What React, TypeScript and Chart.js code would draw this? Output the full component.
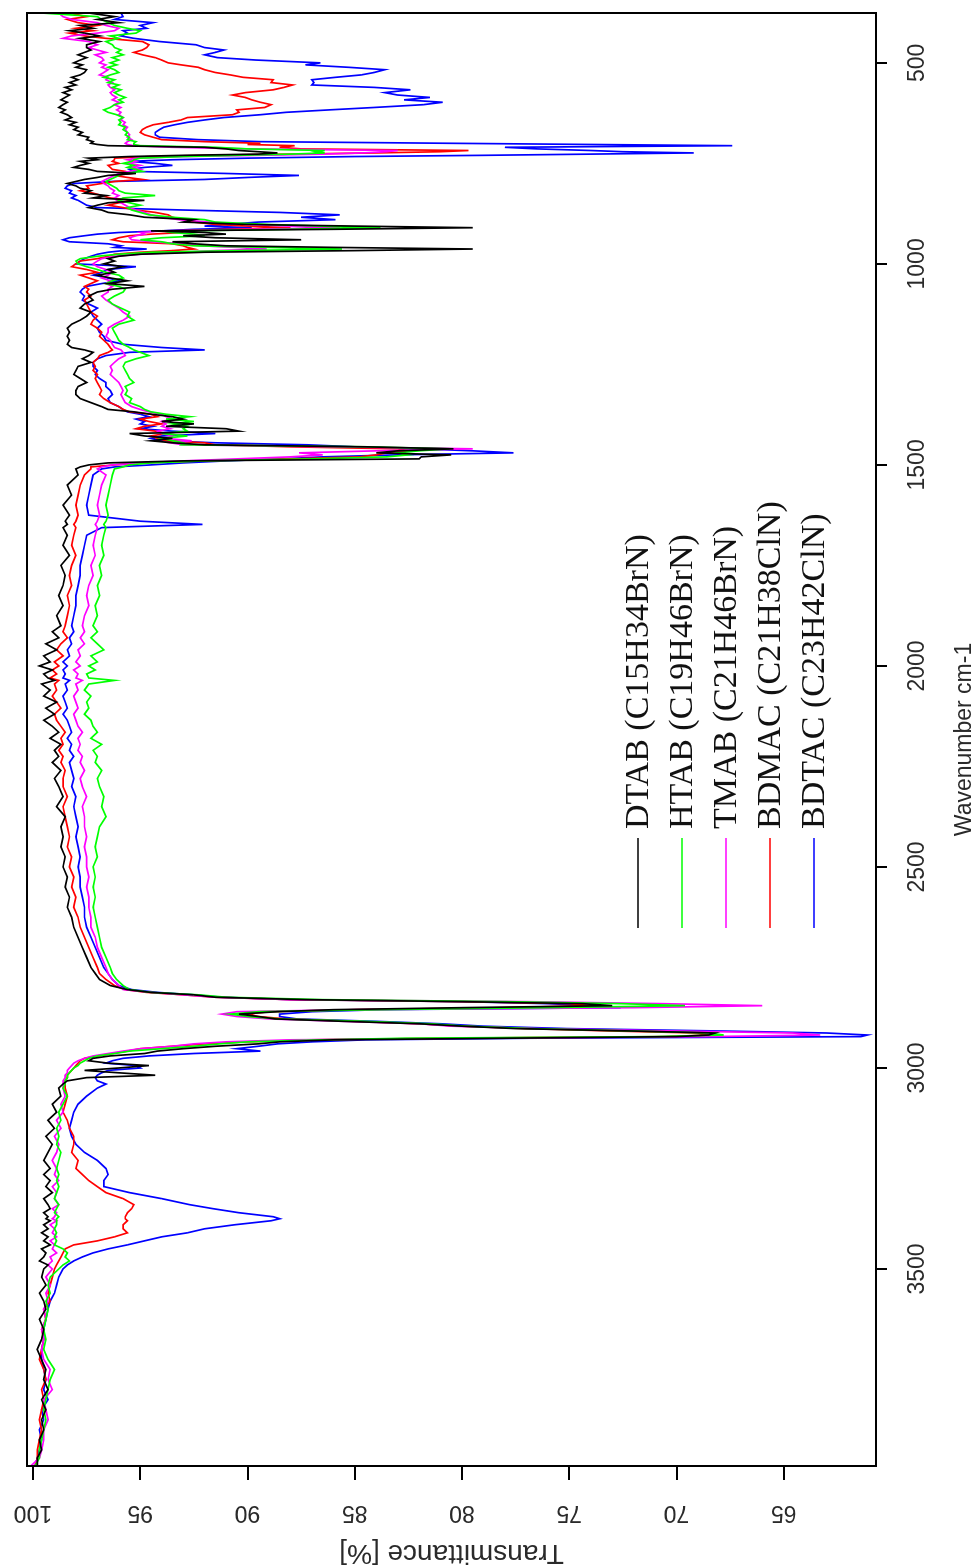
import React, { useEffect, useRef } from "react";
import { Chart, registerables } from "chart.js";

Chart.register(...registerables);

// FTIR spectra of five quaternary ammonium surfactants.
// Shared wavenumber grid (cm-1), ascending.
const wavenumbers = [
  376, 385, 392, 400, 407, 414, 420, 426, 433, 439, 447, 455,
  462, 468, 474, 480, 487, 493, 500, 505, 511, 517, 524, 530, 536, 542, 549, 555, 561, 567, 574, 580, 586, 592, 598, 604,
  611, 617, 623, 629, 636, 642, 648, 654, 660, 666, 673, 679, 685, 691, 696, 700,
  703, 706, 710, 714, 718, 721, 724, 727, 730, 733, 737, 741, 745, 750, 755, 760,
  765, 770, 775, 780, 785, 790, 795, 800, 806, 812, 818, 824, 830, 836, 842, 848, 854, 860, 866, 872, 878, 884, 890, 896,
  902, 906, 910, 914, 918, 922, 926, 930, 935, 940, 945, 950, 955, 959, 963, 967, 971, 976, 981, 987, 993, 1000, 1007,
  1014, 1021, 1028, 1035, 1042, 1049, 1056, 1063,
  1070, 1080, 1090, 1100, 1110, 1120, 1130, 1140, 1150, 1160, 1170, 1180, 1190, 1200, 1208, 1214, 1220, 1228, 1236, 1245,
  1255, 1265, 1275, 1285, 1295, 1305, 1315, 1325, 1335, 1345, 1355, 1362, 1368, 1374, 1380, 1386, 1392, 1398, 1404, 1410,
  1416, 1422, 1428, 1434, 1440, 1445,
  1450, 1455, 1460, 1465, 1470, 1475, 1480, 1485, 1490, 1495, 1500, 1505, 1510,
  1525, 1550, 1575, 1600, 1625, 1640, 1648, 1656, 1675, 1700, 1725, 1750, 1775, 1800, 1825, 1850, 1875, 1900, 1915, 1930,
  1945, 1960, 1975, 1990, 2000, 2010, 2020, 2030, 2036, 2045, 2060, 2075, 2090, 2105, 2120, 2135, 2150, 2165, 2180, 2195,
  2210, 2225, 2240, 2260, 2280, 2300, 2325, 2350, 2375, 2400, 2425, 2450, 2475, 2500, 2525, 2550, 2575, 2600, 2625, 2650,
  2675, 2700, 2725, 2750,
  2765, 2780, 2795, 2805, 2812, 2818, 2824, 2830, 2835, 2840, 2845, 2850, 2855, 2860, 2866, 2872, 2878, 2884, 2890, 2896,
  2902, 2908, 2913, 2918, 2922, 2926, 2930, 2935, 2940, 2946, 2952, 2958, 2964, 2970, 2976, 2982, 2988, 2994, 3000, 3006,
  3012, 3018, 3024, 3032, 3040, 3050,
  3070, 3090, 3110, 3130, 3150, 3170, 3190, 3210, 3230, 3250, 3265, 3280, 3295, 3310, 3325, 3340, 3350, 3360, 3370, 3375,
  3380, 3390, 3400, 3410, 3420, 3430, 3440, 3450, 3460, 3470, 3480, 3490, 3500, 3520, 3540, 3560, 3580, 3600, 3625, 3650,
  3675, 3700,
  3725, 3750, 3775, 3800, 3825, 3850, 3875, 3900, 3925, 3950, 3970, 3990,
];

// Transmittance (%) of each surfactant at the wavenumbers above.
const dtab = [
  97.4, 96.2, 97.0, 96.0, 97.8, 97.2, 98.3, 97.6, 96.9, 97.8, 96.9, 97.5,
  97.5, 97.3, 97.6, 97.9, 97.5, 97.8, 98.1, 97.7, 98.0, 97.5, 97.6, 97.8, 98.2, 97.9, 98.3, 98.0, 98.5, 98.2, 98.6, 98.3, 98.5, 98.7, 98.4, 98.6,
  98.8, 98.5, 98.7, 98.4, 98.2, 98.5, 98.0, 98.3, 97.9, 98.1, 97.7, 97.9, 97.4, 97.5, 97.2, 97.3,
  97.0, 96.5, 92.0, 91.0, 90.4, 89.5, 88.6, 89.5, 93.0, 95.5, 97.4, 97.0, 97.8, 97.4, 97.8, 98.1,
  97.4, 97.0, 95.2, 96.5, 97.0, 97.6, 98.0, 98.4, 98.0, 97.8, 97.3, 97.6, 96.6, 97.2, 94.8, 96.5, 97.0, 97.4, 96.8, 96.5, 95.5, 94.8, 92.5, 93.0,
  90.0, 85.0, 79.5, 86.0, 94.5, 92.0, 91.0, 93.0, 91.5, 87.5, 93.5, 92.5, 91.0, 86.0, 79.5, 85.0, 92.0, 95.0, 96.0, 96.5, 96.2, 96.7, 95.8,
  96.5, 96.2, 97.0, 96.4, 95.6, 96.5, 94.8, 96.3,
  97.0, 97.4, 97.2, 97.6, 97.8, 97.3, 97.5, 97.8, 98.2, 98.4, 98.3, 98.4, 98.3, 98.4, 98.2, 97.6, 97.2, 97.4, 97.7, 97.3,
  97.9, 98.0, 98.1, 97.8, 97.5, 97.9, 98.0, 98.0, 97.8, 97.3, 96.8, 96.5, 95.3, 94.5, 93.5, 93.0, 94.0, 92.5, 93.8, 91.0,
  90.4, 95.5, 94.8, 93.5, 94.5, 93.5,
  92.0, 84.5, 80.4, 83.0, 84.0, 80.5, 81.9, 82.0, 93.0, 96.5, 97.4, 97.8, 98.0,
  97.9, 98.4, 98.2, 98.6, 98.3, 98.5, 98.4, 98.6, 98.4, 98.6, 98.3, 98.7, 98.5, 98.6, 98.8, 98.6, 98.9, 98.7, 99.1, 98.8,
  99.4, 98.9, 99.5, 99.2, 99.7, 99.1, 99.5, 99.3, 99.0, 99.6, 99.2, 99.5, 98.9, 99.4, 99.0, 99.5, 99.1, 98.8, 99.2, 98.7,
  99.0, 98.8, 99.1, 98.7, 99.0, 98.8, 98.6, 98.9, 98.5, 98.7, 98.6, 98.7, 98.5, 98.6, 98.4, 98.5, 98.3, 98.4, 98.2, 98.1,
  97.9, 97.7, 97.5, 97.3,
  97.1, 96.9, 96.4, 95.6, 94.5, 92.5, 91.5, 87.3, 80.0, 74.4, 73.0, 80.0, 86.0, 88.6, 90.4, 89.5, 88.7, 85.5, 82.0, 80.0,
  77.5, 72.1, 68.2, 68.5, 70.0, 78.0, 86.0, 88.5, 89.5, 91.5, 93.0, 94.2, 94.8, 96.4, 97.2, 97.4, 96.5, 94.6, 96.0, 97.6,
  96.0, 94.3, 97.5, 98.4, 98.6, 98.8,
  98.7, 99.1, 98.9, 99.3, 99.0, 99.4, 99.1, 99.3, 99.5, 99.2, 99.5, 99.2, 99.4, 99.1, 99.5, 99.3, 99.2, 99.5, 99.3, 99.4,
  99.2, 99.5, 99.3, 99.6, 99.3, 99.5, 99.2, 99.6, 99.4, 99.5, 99.7, 99.3, 99.5, 99.6, 99.4, 99.7, 99.5, 99.4, 99.7, 99.5,
  99.6, 99.8,
  99.6, 99.4, 99.5, 99.3, 99.6, 99.4, 99.6, 99.5, 99.7, 99.6, 99.8, 99.8,
];

const htab = [
  99.6, 97.0, 96.8, 96.5, 96.2, 95.6, 95.0, 95.2, 96.4, 96.0, 96.6, 96.3,
  96.2, 95.9, 96.1, 95.8, 96.3, 96.0, 96.4, 96.1, 96.5, 96.2, 96.0, 96.4, 96.7, 96.2, 96.5, 96.0, 96.3, 95.9, 96.2, 96.0, 95.7, 96.0, 95.8, 96.2,
  96.4, 96.7, 96.5, 96.1, 95.8, 96.0, 95.9, 96.0, 95.7, 95.8, 95.6, 95.7, 95.5, 95.6, 95.2, 95.3,
  95.3, 95.0, 91.5, 90.0, 86.4, 86.8, 86.4, 88.0, 90.5, 93.0, 95.0, 95.3, 95.4, 95.8, 95.3, 95.6,
  95.2, 94.9, 95.8, 96.0, 96.2, 96.4, 96.6, 96.5, 96.3, 96.1, 96.0, 95.7, 94.3, 95.8, 96.0, 95.5, 95.0, 95.6, 95.4, 95.0, 94.6, 93.5, 92.0, 91.5,
  89.0, 86.5, 83.8, 88.0, 93.0, 93.5, 92.5, 92.0, 94.0, 95.0, 94.0, 93.5, 92.5, 89.0, 85.6, 90.5, 94.5, 96.0, 97.0, 97.8, 98.0, 97.9, 97.5,
  97.0, 96.6, 96.0, 95.8, 96.3, 96.6, 96.0, 95.7,
  95.8, 96.2, 96.5, 96.3, 95.9, 95.5, 95.6, 95.3, 96.0, 96.3, 96.2, 96.1, 96.0, 95.8, 95.5, 95.3, 95.0, 94.6, 95.2, 95.7,
  95.8, 95.7, 95.6, 95.5, 95.3, 95.7, 95.6, 95.7, 95.4, 95.5, 95.0, 94.8, 94.5, 93.8, 92.7, 93.8, 92.5, 93.5, 92.8, 93.0,
  92.8, 94.0, 92.8, 94.0, 93.5, 93.0,
  93.1, 84.5, 80.6, 82.0, 83.0, 82.5, 83.5, 87.0, 92.0, 94.5, 95.5, 95.8, 96.2,
  96.3, 96.4, 96.5, 96.6, 96.5, 96.6, 96.7, 96.6, 96.7, 96.8, 96.7, 96.9, 96.8, 97.0, 96.9, 97.1, 97.0, 97.2, 97.0, 97.3,
  97.0, 96.7, 97.3, 97.0, 97.4, 97.1, 97.5, 97.4, 96.2, 97.4, 97.6, 97.3, 97.5, 97.4, 97.6, 97.3, 97.2, 97.0, 97.3, 96.8,
  97.2, 97.0, 97.1, 96.8, 97.0, 96.9, 96.7, 96.8, 96.6, 96.9, 97.0, 97.1, 97.0, 97.2, 97.1, 97.2, 97.1, 97.2, 97.1, 97.0,
  96.9, 96.8, 96.6, 96.4,
  96.3, 96.1, 95.8, 95.5, 94.5, 92.3, 91.0, 86.5, 78.0, 72.6, 69.6, 76.0, 84.0, 89.5, 90.8, 90.0, 88.5, 84.5, 81.5, 79.8,
  76.8, 72.0, 68.5, 67.8, 71.0, 82.7, 86.5, 90.0, 91.3, 92.5, 94.0, 95.5, 96.2, 97.0, 97.4, 97.6, 97.8, 97.9, 98.1, 98.2,
  98.3, 98.4, 98.4, 98.5, 98.5, 98.6,
  98.4, 98.6, 98.8, 98.7, 98.9, 98.8, 98.9, 98.7, 98.8, 98.9, 98.8, 98.9, 98.8, 98.9, 99.0, 98.8, 98.9, 99.0, 98.8, 98.9,
  98.9, 98.9, 99.0, 98.9, 99.0, 98.9, 99.0, 98.6, 98.4, 98.5, 98.3, 98.6, 98.8, 99.2, 99.3, 99.2, 99.4, 99.3, 99.4, 99.5,
  99.4, 99.5,
  99.3, 99.0, 99.2, 99.3, 99.4, 99.5, 99.4, 99.5, 99.6, 99.7, 99.7, 99.9,
];

const tmab = [
  98.8, 98.6, 98.2, 97.0, 96.6, 96.0, 96.2, 97.0, 98.2, 98.6, 97.4, 97.0,
  97.4, 97.0, 96.6, 97.1, 96.8, 96.7, 96.9, 96.6, 96.8, 96.5, 96.7, 96.9, 96.5, 96.6, 96.3, 96.5, 96.4, 96.2, 96.4, 96.3, 96.1, 96.3, 96.0, 96.2,
  95.9, 96.1, 95.9, 96.0, 95.8, 95.9, 95.7, 95.8, 95.6, 95.7, 95.6, 95.5, 95.6, 95.4, 95.6, 95.7,
  95.6, 95.3, 93.5, 90.0, 83.0, 83.5, 84.6, 86.5, 89.5, 93.0, 95.2, 95.6, 95.2, 95.5, 95.0, 95.4,
  95.0, 95.5, 96.0, 96.2, 96.4, 96.6, 96.8, 96.7, 96.5, 96.4, 96.2, 96.3, 96.0, 96.2, 96.1, 95.9, 95.7, 95.5, 95.2, 94.8, 94.5, 94.0, 93.2, 91.8,
  90.0, 88.0, 85.7, 90.0, 94.0, 95.0, 94.8, 95.2, 95.5, 95.4, 94.5, 93.0, 92.2, 90.5, 89.1, 91.5, 93.0, 95.0, 96.2, 96.8, 97.0, 97.2, 97.0,
  96.6, 96.3, 96.5, 96.8, 96.4, 96.6, 96.3, 96.5,
  96.5, 96.8, 96.6, 96.3, 96.0, 95.8, 95.5, 95.8, 96.2, 96.5, 96.5, 96.6, 96.4, 96.3, 96.2, 95.9, 95.8, 95.7, 96.0, 96.2,
  96.4, 96.3, 96.4, 96.2, 96.0, 95.9, 95.8, 95.9, 95.8, 95.7, 95.4, 95.0, 94.6, 94.0, 93.8, 93.5, 94.0, 93.8, 94.0, 93.6,
  94.2, 94.0, 93.5, 93.8, 92.6, 93.6,
  93.0, 86.0, 79.5, 84.0, 87.6, 86.5, 88.0, 90.5, 93.0, 95.0, 96.3, 96.8, 97.0,
  96.6, 96.8, 96.9, 97.0, 96.9, 97.0, 97.1, 97.0, 97.1, 97.2, 97.1, 97.3, 97.2, 97.4, 97.5, 97.4, 97.6, 97.7, 97.6, 97.8,
  97.6, 97.9, 97.8, 98.0, 97.8, 98.1, 97.9, 98.0, 97.7, 98.0, 97.9, 98.1, 98.0, 97.9, 98.1, 98.0, 97.9, 97.7, 97.9, 97.8,
  97.9, 97.7, 97.8, 97.6, 97.8, 97.7, 97.5, 97.7, 97.6, 97.6, 97.5, 97.6, 97.5, 97.5, 97.4, 97.5, 97.4, 97.4, 97.3, 97.3,
  97.1, 97.0, 96.8, 96.6,
  96.5, 96.3, 96.0, 95.8, 94.5, 93.0, 91.5, 88.0, 77.0, 70.7, 66.0, 72.0, 85.0, 90.5, 91.2, 90.5, 89.0, 85.5, 82.0, 80.5,
  76.5, 70.0, 64.6, 63.3, 68.5, 80.0, 88.0, 91.0, 92.5, 93.5, 95.0, 95.8, 96.5, 97.2, 97.6, 97.9, 98.1, 98.2, 98.3, 98.4,
  98.4, 98.5, 98.5, 98.6, 98.6, 98.6,
  98.5, 98.7, 98.6, 98.9, 98.7, 99.0, 98.8, 98.9, 99.1, 98.9, 99.0, 98.8, 99.1, 98.9, 99.0, 98.8, 99.1, 98.9, 99.0, 99.1,
  98.9, 99.2, 99.0, 99.1, 98.9, 99.2, 99.0, 99.1, 98.9, 99.2, 99.1, 99.3, 99.1, 99.4, 99.2, 99.4, 99.3, 99.5, 99.4, 99.6,
  99.5, 99.6,
  99.5, 99.2, 99.3, 99.1, 99.5, 99.4, 99.3, 99.5, 99.5, 99.6, 99.7, 100.1,
];

const bdmac = [
  98.3, 97.5, 98.4, 97.9, 97.0, 98.0, 97.2, 98.3, 97.6, 96.6, 94.9, 94.6,
  94.7, 94.9, 95.3, 94.9, 94.3, 94.0, 93.7, 93.1, 92.3, 92.0, 91.5, 90.8, 90.2, 88.8, 88.9, 87.9, 88.3, 88.8, 90.1, 90.7, 90.1, 89.8, 89.4, 88.9,
  89.2, 90.5, 90.4, 90.7, 92.8, 93.1, 93.7, 94.4, 94.7, 94.9, 95.0, 94.8, 94.4, 94.0, 92.0, 89.4,
  90.0, 87.8, 88.5, 87.5, 79.7, 81.0, 84.0, 88.0, 92.0, 94.5, 96.2, 96.2, 96.3, 96.0, 96.5, 96.4,
  96.3, 95.7, 95.4, 96.2, 95.6, 94.9, 96.2, 96.8, 97.5, 97.4, 97.8, 97.2, 96.8, 96.4, 95.3, 96.0, 96.5, 95.8, 95.2, 94.3, 93.7, 93.5, 93.0, 92.5,
  91.5, 90.0, 88.0, 91.0, 93.5, 93.0, 94.5, 95.5, 96.0, 96.3, 95.8, 93.5, 93.0, 92.8, 92.5, 93.5, 95.0, 96.2, 96.5, 97.0, 97.8, 98.0, 98.2,
  97.5, 97.0, 97.8, 97.4, 97.0, 97.3, 97.6, 97.4,
  97.5, 97.3, 97.6, 97.5, 97.4, 97.3, 97.0, 97.2, 97.3, 97.0, 96.8, 96.9, 96.7, 96.5, 96.4, 96.3, 96.5, 96.9, 97.0, 97.2,
  97.1, 97.2, 97.0, 97.1, 97.0, 96.9, 96.8, 96.9, 96.7, 96.4, 96.0, 95.8, 95.5, 94.5, 94.2, 95.0, 94.6, 94.0, 94.8, 95.2,
  94.3, 93.8, 94.5, 94.2, 93.8, 92.0,
  91.5, 88.0, 83.0, 82.5, 83.5, 84.0, 84.8, 88.0, 92.0, 95.0, 96.2, 97.3, 97.3,
  97.6, 97.8, 97.9, 98.0, 97.9, 98.0, 98.1, 98.0, 98.1, 98.2, 98.0, 98.2, 98.3, 98.2, 98.4, 98.3, 98.4, 98.5, 98.6, 98.4,
  98.7, 98.9, 98.6, 99.0, 98.8, 99.1, 98.9, 99.2, 98.8, 99.0, 98.9, 99.1, 98.9, 98.7, 99.0, 98.9, 98.7, 98.5, 98.7, 98.6,
  98.8, 98.6, 98.7, 98.5, 98.6, 98.6, 98.4, 98.6, 98.5, 98.4, 98.3, 98.4, 98.2, 98.3, 98.1, 98.2, 98.0, 98.1, 97.9, 97.8,
  97.6, 97.4, 97.2, 97.0,
  96.9, 96.6, 96.2, 95.7, 94.7, 93.0, 91.5, 88.0, 80.0, 75.0, 74.0, 78.0, 85.0, 89.0, 90.0, 89.5, 88.2, 85.0, 82.0, 80.0,
  77.0, 73.0, 69.0, 68.5, 70.5, 81.0, 87.0, 90.0, 92.0, 93.5, 95.0, 95.6, 96.3, 97.0, 97.6, 97.8, 97.9, 98.0, 98.1, 98.2,
  98.3, 98.4, 98.4, 98.5, 98.5, 98.5,
  98.4, 98.5, 98.6, 98.4, 98.3, 98.1, 98.1, 98.2, 97.9, 98.0, 97.7, 97.4, 97.0, 96.6, 95.8, 95.3, 95.4, 95.6, 95.7, 95.7,
  95.6, 95.8, 95.8, 95.6, 96.2, 97.0, 98.1, 98.5, 98.6, 98.7, 98.8, 98.9, 99.0, 99.1, 99.2, 99.3, 99.2, 99.5, 99.4, 99.6,
  99.5, 99.6,
  99.7, 99.5, 99.4, 99.6, 99.5, 99.6, 99.7, 99.6, 99.7, 99.8, 99.8, 99.9,
];

const bdtac = [
  95.9, 95.8, 96.2, 94.4, 95.0, 94.7, 95.8, 95.6, 95.9, 95.3, 94.1, 92.4,
  92.0, 91.1, 91.5, 92.0, 91.4, 89.6, 86.6, 87.3, 85.3, 83.6, 84.1, 84.7, 85.9, 87.0, 86.9, 87.0, 84.1, 82.4, 83.6, 83.0, 81.5, 82.7, 80.9, 81.8,
  84.1, 86.2, 88.2, 89.4, 91.1, 92.0, 92.8, 93.4, 93.9, 94.1, 94.3, 94.3, 94.1, 92.3, 89.4, 80.7,
  74.0, 67.4, 78.0, 76.5, 74.0, 72.5, 69.2, 74.0, 79.0, 85.0, 90.0, 93.5, 95.5, 94.3, 93.5, 94.8,
  95.5, 95.3, 91.1, 87.6, 90.0, 92.0, 96.3, 98.1, 98.4, 98.5, 98.2, 98.3, 98.0, 98.2, 97.9, 97.7, 97.5, 97.0, 93.0, 88.5, 85.7, 87.5, 85.9, 89.5,
  91.0, 92.0, 89.8, 92.5, 94.0, 96.0, 97.0, 97.6, 98.3, 98.6, 98.3, 96.5, 95.9, 96.2, 94.7, 95.8, 96.5, 97.0, 97.3, 97.6, 97.8, 98.0, 95.2,
  96.5, 96.8, 97.2, 96.5, 96.0, 96.8, 97.5, 97.7,
  97.8, 97.6, 97.7, 97.4, 97.0, 97.3, 97.2, 97.0, 96.8, 97.0, 96.9, 96.7, 96.6, 95.8, 94.0, 92.0, 95.5, 96.6, 97.0, 97.2,
  97.2, 97.0, 97.1, 96.9, 96.6, 96.6, 96.4, 96.3, 96.5, 96.4, 96.0, 95.8, 95.6, 95.0, 94.6, 95.2, 94.8, 95.0, 94.4, 95.0,
  93.5, 91.5, 94.0, 94.5, 94.0, 91.5,
  87.2, 85.0, 82.0, 79.5, 77.6, 83.0, 86.5, 88.5, 91.0, 93.0, 94.5, 96.2, 96.8,
  97.2, 97.3, 97.4, 97.5, 97.4, 95.0, 92.1, 96.8, 97.5, 97.6, 97.7, 97.8, 97.8, 97.9, 98.0, 98.0, 98.1, 98.2, 98.1, 98.3,
  98.2, 98.4, 98.3, 98.6, 98.4, 98.6, 98.5, 98.6, 98.3, 98.5, 98.4, 98.6, 98.5, 98.4, 98.6, 98.4, 98.3, 98.2, 98.4, 98.2,
  98.3, 98.1, 98.3, 98.2, 98.1, 98.2, 98.0, 98.1, 98.0, 97.9, 98.0, 97.9, 97.8, 97.9, 97.8, 97.8, 97.7, 97.6, 97.6, 97.5,
  97.3, 97.1, 96.9, 96.7,
  96.5, 96.3, 96.0, 95.4, 94.2, 92.5, 91.2, 88.0, 80.0, 76.0, 74.0, 72.6, 83.8, 87.0, 88.5, 88.5, 87.7, 84.0, 81.0, 79.0,
  75.1, 68.0, 63.0, 61.1, 61.4, 76.9, 84.5, 87.0, 88.6, 89.5, 90.5, 89.4, 92.5, 94.6, 95.8, 96.3, 96.6, 95.2, 95.0, 96.5,
  96.8, 97.0, 97.1, 97.0, 96.6, 97.0,
  97.5, 97.9, 98.1, 98.2, 98.3, 98.2, 98.0, 97.6, 97.0, 96.6, 96.5, 96.7, 96.7, 95.5, 94.0, 92.7, 91.6, 90.4, 88.8, 88.5,
  88.9, 90.6, 92.0, 92.8, 94.0, 94.8, 95.6, 96.5, 97.2, 97.7, 98.1, 98.4, 98.6, 98.8, 98.9, 99.0, 99.2, 99.3, 99.4, 99.5,
  99.5, 99.6,
  99.6, 99.5, 99.4, 99.5, 99.3, 99.6, 99.5, 99.7, 99.6, 99.7, 99.8, 99.9,
];

const seriesNames = [
  "DTAB (C15H34BrN)",
  "HTAB (C19H46BrN)",
  "TMAB (C21H46BrN)",
  "BDMAC (C21H38ClN)",
  "BDTAC (C23H42ClN)",
];
const seriesValues = [dtab, htab, tmab, bdmac, bdtac];
const seriesColors = ["#000000", "#00ff00", "#ff00ff", "#ff0000", "#0000ff"];

const wavenumberTicks = [500, 1000, 1500, 2000, 2500, 3000, 3500];
const transmittanceTicks = [65, 70, 75, 80, 85, 90, 95, 100];

// The chart is laid out landscape and turned a quarter turn on the page.
const CANVAS_W = 1566;
const CANVAS_H = 976;

const SANS = '"Liberation Sans", Arial, sans-serif';
const SERIF = '"Liberation Serif", "Times New Roman", serif';

const boxPlugin = {
  id: "plotBox",
  afterDraw(chart: any) {
    const { ctx, chartArea: a } = chart;
    ctx.save();
    ctx.strokeStyle = "#000";
    ctx.lineWidth = 2;
    ctx.strokeRect(a.left, a.top, a.right - a.left, a.bottom - a.top);
    ctx.restore();
  },
};

const keyPlugin = {
  id: "seriesKey",
  afterDraw(chart: any) {
    const { ctx } = chart;
    const lineStart = 638;
    const lineLen = 90;
    const gap = 9;
    const firstRow = 638;
    const rowStep = 44;
    ctx.save();
    ctx.font = `34px ${SERIF}`;
    ctx.textBaseline = "middle";
    ctx.textAlign = "left";
    chart.data.datasets.forEach((ds: any, i: number) => {
      const y = firstRow + i * rowStep;
      ctx.strokeStyle = ds.borderColor;
      ctx.lineWidth = 1.7;
      ctx.beginPath();
      ctx.moveTo(lineStart, y);
      ctx.lineTo(lineStart + lineLen, y);
      ctx.stroke();
      ctx.fillStyle = "#111";
      ctx.fillText(ds.label, lineStart + lineLen + gap, y + 1);
    });
    ctx.restore();
  },
};

export default function App() {
  const canvasRef = useRef<HTMLCanvasElement | null>(null);

  useEffect(() => {
    const canvas = canvasRef.current;
    if (!canvas) return;

    const datasets = seriesValues.map((vals, i) => ({
      label: seriesNames[i],
      data: wavenumbers.map((wn, j) => ({ x: wn, y: vals[j] })),
      borderColor: seriesColors[i],
      backgroundColor: seriesColors[i],
      borderWidth: 1.7,
      pointRadius: 0,
      tension: 0,
      fill: false,
    }));

    const chart = new Chart(canvas, {
      type: "line",
      data: { datasets },
      options: {
        animation: false,
        responsive: false,
        devicePixelRatio: 1,
        events: [],
        layout: { padding: { top: 27, right: 13, left: 0, bottom: 0 } },
        plugins: {
          legend: { display: false },
          tooltip: { enabled: false },
        },
        scales: {
          x: {
            type: "linear",
            reverse: true,
            min: 376,
            max: 3990,
            afterBuildTicks: (scale: any) => {
              scale.ticks = wavenumberTicks.map((v) => ({ value: v }));
            },
            afterFit: (scale: any) => {
              scale.height = 100;
            },
            grid: {
              display: true,
              drawOnChartArea: false,
              drawTicks: true,
              tickLength: 11,
              color: "#000",
              lineWidth: 2,
            },
            border: { display: true, color: "#000", width: 2 },
            ticks: {
              autoSkip: false,
              maxRotation: 0,
              minRotation: 0,
              padding: 17,
              color: "#2a2a2a",
              font: { family: SANS, size: 23 },
              callback: (v: any) => String(v),
            },
            title: {
              display: true,
              text: "Wavenumber cm-1",
              color: "#2a2a2a",
              font: { family: SANS, size: 23, lineHeight: 1.0 },
              padding: { top: 0, bottom: 0 },
            },
          },
          y: {
            type: "linear",
            min: 60.7,
            max: 100.28,
            afterBuildTicks: (scale: any) => {
              scale.ticks = transmittanceTicks.map((v) => ({ value: v }));
            },
            afterFit: (scale: any) => {
              scale.width = 100;
            },
            grid: {
              display: true,
              drawOnChartArea: false,
              drawTicks: true,
              tickLength: 14,
              color: "#000",
              lineWidth: 2,
            },
            border: { display: true, color: "#000", width: 2 },
            ticks: {
              autoSkip: false,
              minRotation: 90,
              maxRotation: 90,
              crossAlign: "center",
              padding: 13,
              color: "#2a2a2a",
              font: { family: SANS, size: 23 },
              callback: (v: any) => String(v),
            },
            title: {
              display: true,
              text: "Transmittance [%]",
              color: "#2a2a2a",
              font: { family: SANS, size: 28, lineHeight: 0.93 },
              padding: { top: 0, bottom: 0 },
            },
          },
        },
      } as any,
      plugins: [boxPlugin, keyPlugin],
    });

    return () => chart.destroy();
  }, []);

  return (
    <div
      style={{
        position: "absolute",
        left: 0,
        top: 0,
        width: CANVAS_H,
        height: CANVAS_W,
        overflow: "hidden",
        background: "#fff",
      }}
    >
      <canvas
        ref={canvasRef}
        width={CANVAS_W}
        height={CANVAS_H}
        style={{
          position: "absolute",
          left: 0,
          top: 0,
          width: CANVAS_W,
          height: CANVAS_H,
          transformOrigin: "0 0",
          transform: `translateY(${CANVAS_W}px) rotate(-90deg)`,
        }}
      />
    </div>
  );
}
